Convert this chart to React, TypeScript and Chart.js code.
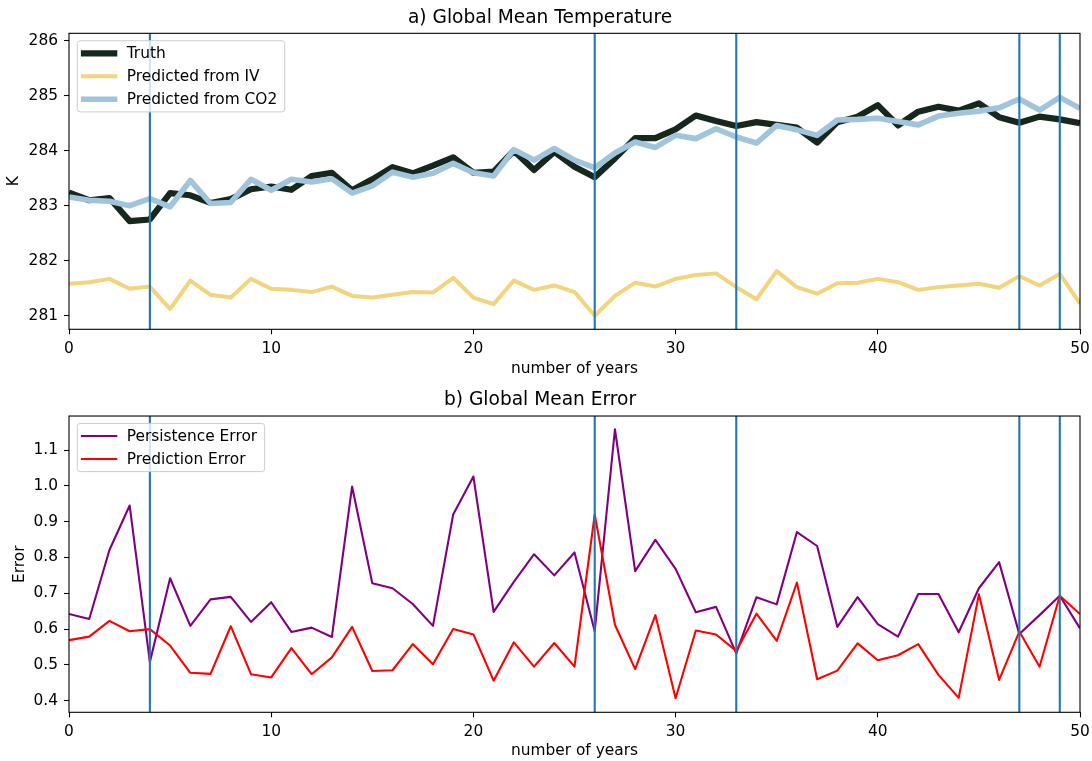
import React, { useEffect, useRef } from "react";
import { Chart, registerables } from "chart.js";

Chart.register(...registerables);

// ---- data ----
const years = [
  0, 1, 2, 3, 4, 5, 6, 7, 8, 9, 10, 11, 12, 13, 14, 15, 16, 17, 18, 19, 20, 21, 22, 23, 24, 25,
  26, 27, 28, 29, 30, 31, 32, 33, 34, 35, 36, 37, 38, 39, 40, 41, 42, 43, 44, 45, 46, 47, 48, 49, 50,
];

const truthK = [
  283.24, 283.1, 283.14, 282.72, 282.75, 283.23, 283.19, 283.05, 283.12, 283.3, 283.35, 283.29, 283.54,
  283.6, 283.28, 283.48, 283.7, 283.59, 283.73, 283.88, 283.6, 283.62, 284.0, 283.65, 283.98, 283.71,
  283.52, 283.86, 284.23, 284.23, 284.39, 284.64, 284.54, 284.45, 284.52, 284.47, 284.42, 284.15, 284.52,
  284.62, 284.83, 284.46, 284.71, 284.8, 284.73, 284.86, 284.61, 284.51, 284.62, 284.57, 284.5,
];

const predIvK = [
  281.58, 281.61, 281.67, 281.49, 281.53, 281.12, 281.64, 281.38, 281.33, 281.67, 281.49, 281.47, 281.43,
  281.53, 281.36, 281.33, 281.38, 281.43, 281.42, 281.69, 281.33, 281.21, 281.64, 281.47, 281.55, 281.43,
  281.0, 281.36, 281.6, 281.53, 281.67, 281.74, 281.77, 281.52, 281.3, 281.81, 281.52, 281.4, 281.59,
  281.6, 281.67, 281.61, 281.47, 281.52, 281.55, 281.58, 281.51, 281.72, 281.55, 281.76, 281.22,
];

const predCo2K = [
  283.16, 283.1, 283.08, 283.0, 283.13, 282.98, 283.46, 283.04, 283.06, 283.48, 283.28, 283.48, 283.43,
  283.49, 283.23, 283.36, 283.61, 283.52, 283.59, 283.77, 283.6, 283.54, 284.02, 283.83, 284.04, 283.83,
  283.69, 283.96, 284.16, 284.06, 284.28, 284.22, 284.4, 284.25, 284.14, 284.46, 284.38, 284.28, 284.56,
  284.57, 284.59, 284.53, 284.47, 284.63, 284.68, 284.72, 284.78, 284.94, 284.74, 284.97, 284.77,
];

const persistenceErr = [
  0.642, 0.628, 0.821, 0.945, 0.508, 0.742, 0.609, 0.683, 0.69, 0.62, 0.675, 0.592, 0.604,
  0.578, 0.998, 0.728, 0.714, 0.67, 0.609, 0.92, 1.026, 0.648, 0.732, 0.809, 0.75, 0.814,
  0.594, 1.158, 0.762, 0.849, 0.768, 0.647, 0.662, 0.532, 0.689, 0.669, 0.871, 0.832, 0.606,
  0.689, 0.614, 0.579, 0.698, 0.698, 0.591, 0.714, 0.787, 0.586, 0.639, 0.693, 0.602,
];

const predictionErr = [
  0.569, 0.579, 0.623, 0.594, 0.6, 0.554, 0.478, 0.475, 0.608, 0.474, 0.465, 0.547, 0.474,
  0.521, 0.606, 0.483, 0.485, 0.558, 0.502, 0.6, 0.585, 0.456, 0.563, 0.495, 0.561, 0.495,
  0.92, 0.612, 0.488, 0.639, 0.407, 0.596, 0.585, 0.539, 0.643, 0.567, 0.73, 0.46, 0.484,
  0.56, 0.513, 0.527, 0.558, 0.472, 0.408, 0.697, 0.458, 0.593, 0.495, 0.693, 0.642,
];

// years marked with a vertical line
const breakYears = [4, 26, 33, 47, 49];

const xTicks = [0, 10, 20, 30, 40, 50];
const tempTicks = [281, 282, 283, 284, 285, 286];
const errTicks = [0.4, 0.5, 0.6, 0.7, 0.8, 0.9, 1.0, 1.1];

// ---- styling ----
const FAMILY = '"DejaVu Sans", sans-serif';
const TICK_SIZE = 15.4;
const TITLE_SIZE = 18.6;
const W = 1092;
const TOP_H = 385;
const BOTTOM_H = 376;

Chart.defaults.font.family = FAMILY;
Chart.defaults.color = "#000";

const pts = (vals: number[]) => vals.map((v, i) => ({ x: years[i], y: v }));

// Vertical markers, the axes frame and a boxed legend drawn over the data
const overlayPlugin = {
  id: "overlay",
  afterDatasetsDraw(chart: any, _args: any, opts: any) {
    const { ctx, chartArea: a, scales } = chart;
    const xs = scales.x;

    ctx.save();
    ctx.beginPath();
    ctx.rect(a.left, a.top, a.right - a.left, a.bottom - a.top);
    ctx.clip();
    ctx.strokeStyle = "#1f77b4";
    ctx.lineWidth = 2.1;
    for (const yr of opts.markers as number[]) {
      const px = xs.getPixelForValue(yr);
      ctx.beginPath();
      ctx.moveTo(px, a.top);
      ctx.lineTo(px, a.bottom);
      ctx.stroke();
    }
    ctx.restore();

    ctx.save();
    ctx.strokeStyle = "#000";
    ctx.lineWidth = 1.1;
    ctx.strokeRect(a.left, a.top, a.right - a.left, a.bottom - a.top);
    ctx.restore();

    // legend
    const items = chart.data.datasets.map((d: any) => ({
      label: d.label,
      color: d.borderColor,
      width: d.borderWidth,
    }));
    ctx.save();
    ctx.font = `${TICK_SIZE}px ${FAMILY}`;
    const maxW = Math.max(...items.map((it: any) => ctx.measureText(it.label).width));
    const bx = a.left + 8.3;
    const by = a.top + 7.4;
    const rowH = opts.rowH;
    const padY = 12.6;
    const bw = 49.4 + maxW + 7.5;
    const bh = padY * 2 + rowH * (items.length - 1);
    const r = 3;
    ctx.beginPath();
    ctx.moveTo(bx + r, by);
    ctx.lineTo(bx + bw - r, by);
    ctx.arcTo(bx + bw, by, bx + bw, by + r, r);
    ctx.lineTo(bx + bw, by + bh - r);
    ctx.arcTo(bx + bw, by + bh, bx + bw - r, by + bh, r);
    ctx.lineTo(bx + r, by + bh);
    ctx.arcTo(bx, by + bh, bx, by + bh - r, r);
    ctx.lineTo(bx, by + r);
    ctx.arcTo(bx, by, bx + r, by, r);
    ctx.closePath();
    ctx.fillStyle = "rgba(255,255,255,0.8)";
    ctx.fill();
    ctx.strokeStyle = "#cccccc";
    ctx.lineWidth = 1;
    ctx.stroke();

    items.forEach((it: any, i: number) => {
      const cy = by + padY + i * rowH;
      ctx.beginPath();
      ctx.strokeStyle = it.color;
      ctx.lineWidth = it.width;
      ctx.lineCap = "butt";
      ctx.moveTo(bx + 3.6, cy);
      ctx.lineTo(bx + 40, cy);
      ctx.stroke();
      ctx.fillStyle = "#000";
      ctx.textBaseline = "middle";
      ctx.textAlign = "left";
      ctx.fillText(it.label, bx + 49.4, cy + 0.5);
    });
    ctx.restore();
  },
};

type PanelSpec = {
  datasets: any[];
  yMin: number;
  yMax: number;
  yTicks: number[];
  yFmt: (v: number) => string;
  yTitle: string;
  yTitlePad: number;
  title: string;
  titlePad: { top: number; bottom: number };
  xTitlePad: number;
  xScaleHeight: number;
  rowH: number;
};

function makeConfig(p: PanelSpec): any {
  const tickFont = { family: FAMILY, size: TICK_SIZE };
  return {
    type: "line",
    data: { datasets: p.datasets },
    plugins: [overlayPlugin],
    options: {
      responsive: false,
      animation: false,
      devicePixelRatio: 1,
      layout: { padding: { left: 0, right: 12, top: 0, bottom: 0 } },
      elements: { point: { radius: 0 }, line: { tension: 0 } },
      plugins: {
        legend: { display: false },
        tooltip: { enabled: false },
        title: {
          display: true,
          text: p.title,
          color: "#000",
          font: { family: FAMILY, size: TITLE_SIZE, weight: "normal", lineHeight: 1.2 },
          padding: p.titlePad,
        },
        overlay: { markers: breakYears, rowH: p.rowH },
      },
      scales: {
        x: {
          type: "linear",
          min: 0,
          max: 50,
          afterBuildTicks: (s: any) => {
            s.ticks = xTicks.map((v) => ({ value: v }));
          },
          afterFit: (s: any) => {
            s.height = p.xScaleHeight;
            s.paddingLeft = 0;
            s.paddingRight = 0;
          },
          ticks: { font: tickFont, color: "#000", padding: 5.5, maxRotation: 0, callback: (v: any) => String(v) },
          grid: {
            display: true,
            drawOnChartArea: false,
            drawTicks: true,
            tickLength: 5,
            tickWidth: 1.1,
            tickColor: "#000",
          },
          border: { display: false },
          title: {
            display: true,
            text: "number of years",
            color: "#000",
            font: { family: FAMILY, size: TICK_SIZE, lineHeight: 1.2 },
            padding: { top: 0, bottom: p.xTitlePad },
          },
        },
        y: {
          type: "linear",
          min: p.yMin,
          max: p.yMax,
          afterBuildTicks: (s: any) => {
            s.ticks = p.yTicks.map((v) => ({ value: v }));
          },
          afterFit: (s: any) => {
            s.width = 69;
          },
          ticks: { font: tickFont, color: "#000", padding: 6, callback: (v: any) => p.yFmt(Number(v)) },
          grid: {
            display: true,
            drawOnChartArea: false,
            drawTicks: true,
            tickLength: 5,
            tickWidth: 1.1,
            tickColor: "#000",
          },
          border: { display: false },
          title: {
            display: true,
            text: p.yTitle,
            color: "#000",
            font: { family: FAMILY, size: TICK_SIZE, lineHeight: 1.2 },
            padding: { top: p.yTitlePad, bottom: 0 },
          },
        },
      },
    },
  };
}

const lineBase = { pointRadius: 0, borderJoinStyle: "round", borderCapStyle: "butt", clip: 0, fill: false };

export default function App() {
  const topRef = useRef<HTMLCanvasElement | null>(null);
  const bottomRef = useRef<HTMLCanvasElement | null>(null);

  useEffect(() => {
    const top = new Chart(
      topRef.current as HTMLCanvasElement,
      makeConfig({
        datasets: [
          { ...lineBase, label: "Truth", data: pts(truthK), borderColor: "#16281e", borderWidth: 6.2, order: 3 },
          { ...lineBase, label: "Predicted from IV", data: pts(predIvK), borderColor: "#f3d37c", borderWidth: 4, order: 2 },
          { ...lineBase, label: "Predicted from CO2", data: pts(predCo2K), borderColor: "#9fc4dc", borderWidth: 5.6, order: 1 },
        ],
        yMin: 280.753,
        yMax: 286.135,
        yTicks: tempTicks,
        yFmt: (v) => String(Math.round(v)),
        yTitle: "K",
        yTitlePad: 4.7,
        title: "a) Global Mean Temperature",
        titlePad: { top: 6.8, bottom: 4.2 },
        xTitlePad: 7.2,
        xScaleHeight: TOP_H - 329.3,
        rowH: 23,
      })
    );
    const bottom = new Chart(
      bottomRef.current as HTMLCanvasElement,
      makeConfig({
        datasets: [
          { ...lineBase, label: "Persistence Error", data: pts(persistenceErr), borderColor: "#800080", borderWidth: 2.1, order: 2 },
          { ...lineBase, label: "Prediction Error", data: pts(predictionErr), borderColor: "#ff0000", borderWidth: 2.1, order: 1 },
        ],
        yMin: 0.3676,
        yMax: 1.195,
        yTicks: errTicks,
        yFmt: (v) => v.toFixed(1),
        yTitle: "Error",
        yTitlePad: 10.7,
        title: "b) Global Mean Error",
        titlePad: { top: 4.5, bottom: 4.2 },
        xTitlePad: 0.5,
        xScaleHeight: BOTTOM_H - (712.3 - TOP_H),
        rowH: 23,
      })
    );
    return () => {
      top.destroy();
      bottom.destroy();
    };
  }, []);

  return (
    <div style={{ position: "absolute", left: 0, top: 0, width: W, height: TOP_H + BOTTOM_H, background: "#fff" }}>
      <canvas ref={topRef} width={W} height={TOP_H} style={{ position: "absolute", left: 0, top: 0, display: "block" }} />
      <canvas ref={bottomRef} width={W} height={BOTTOM_H} style={{ position: "absolute", left: 0, top: TOP_H, display: "block" }} />
    </div>
  );
}
